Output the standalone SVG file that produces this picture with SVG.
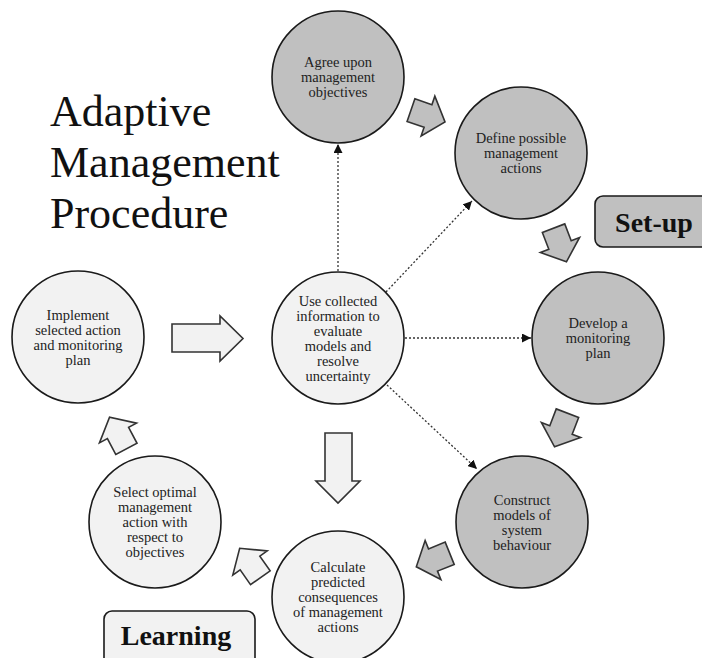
<svg xmlns="http://www.w3.org/2000/svg" width="702" height="658" viewBox="0 0 702 658">
<style>
.dark{fill:#c0c0c0;stroke:#1a1a1a;stroke-width:1.6}
.light{fill:#f2f2f2;stroke:#1a1a1a;stroke-width:1.6}
.t{font-family:"Liberation Serif","DejaVu Serif",serif;font-size:14.5px;fill:#222;text-anchor:middle}
.title{font-family:"Liberation Serif","DejaVu Serif",serif;font-size:44px;fill:#111}
.lbl{font-family:"Liberation Serif","DejaVu Serif",serif;font-size:28px;font-weight:bold;fill:#111;text-anchor:middle}
.ga{fill:#c0c0c0;stroke:#333;stroke-width:1.6;stroke-linejoin:miter}
.la{fill:#f2f2f2;stroke:#333;stroke-width:1.6;stroke-linejoin:miter}
.dot{fill:none;stroke:#333;stroke-width:1.3;stroke-dasharray:2 2}
</style>
<defs>
<marker id="ah" viewBox="0 0 10 10" refX="10" refY="5" markerWidth="9" markerHeight="9" markerUnits="userSpaceOnUse" orient="auto">
<path d="M0,0 L10,5 L0,10 Z" fill="#111"/>
</marker>
<path id="sa" d="M-18,-12 H0 V-21 L18,0 L0,21 V12 H-18 Z"/>
</defs>
<rect width="702" height="658" fill="#fff"/>
<g id="title">
<text class="title" x="50" y="126">Adaptive</text>
<text class="title" x="50" y="177">Management</text>
<text class="title" x="50" y="228">Procedure</text>
</g>
<g id="connectors">
<line class="dot" x1="338" y1="271" x2="338" y2="144" marker-end="url(#ah)"/>
<line class="dot" x1="386" y1="292" x2="472" y2="201" marker-end="url(#ah)"/>
<line class="dot" x1="405" y1="338" x2="531" y2="338" marker-end="url(#ah)"/>
<line class="dot" x1="387" y1="385" x2="477" y2="469" marker-end="url(#ah)"/>
<use href="#sa" class="ga" transform="translate(428,116) rotate(19)"/>
<use href="#sa" class="ga" transform="translate(560,245) rotate(69)"/>
<use href="#sa" class="ga" transform="translate(561,430) rotate(111)"/>
<use href="#sa" class="ga" transform="translate(433,560) rotate(158)"/>
<use href="#sa" class="la" transform="translate(250,563) rotate(-125)"/>
<use href="#sa" class="la" transform="translate(118,433) rotate(-118)"/>
<path class="la" d="M172,324 H220 V316 L243,338.5 L220,361 V352 H172 Z"/>
<path class="la" d="M325,433 H352 V481 H360 L338,503 L316,481 H325 Z"/>
</g>
<g id="n1">
<circle class="dark" cx="338" cy="77" r="66"/>
<text class="t" x="338" y="67">Agree upon</text>
<text class="t" x="338" y="82">management</text>
<text class="t" x="338" y="97">objectives</text>
</g>
<g id="n2">
<circle class="dark" cx="521" cy="153" r="66"/>
<text class="t" x="521" y="143">Define possible</text>
<text class="t" x="521" y="158">management</text>
<text class="t" x="521" y="173">actions</text>
</g>
<g id="n3">
<circle class="dark" cx="598" cy="338" r="66"/>
<text class="t" x="598" y="328">Develop a</text>
<text class="t" x="598" y="343">monitoring</text>
<text class="t" x="598" y="358">plan</text>
</g>
<g id="n4">
<circle class="dark" cx="522" cy="522" r="66"/>
<text class="t" x="522" y="504.5">Construct</text>
<text class="t" x="522" y="519.5">models of</text>
<text class="t" x="522" y="534.5">system</text>
<text class="t" x="522" y="549.5">behaviour</text>
</g>
<g id="n5">
<circle class="light" cx="338" cy="597" r="66"/>
<text class="t" x="338" y="572">Calculate</text>
<text class="t" x="338" y="587">predicted</text>
<text class="t" x="338" y="602">consequences</text>
<text class="t" x="338" y="617">of management</text>
<text class="t" x="338" y="632">actions</text>
</g>
<g id="n6">
<circle class="light" cx="155" cy="522" r="66"/>
<text class="t" x="155" y="497">Select optimal</text>
<text class="t" x="155" y="512">management</text>
<text class="t" x="155" y="527">action with</text>
<text class="t" x="155" y="542">respect to</text>
<text class="t" x="155" y="557">objectives</text>
</g>
<g id="n7">
<circle class="light" cx="78" cy="337" r="66"/>
<text class="t" x="78" y="320">Implement</text>
<text class="t" x="78" y="335">selected action</text>
<text class="t" x="78" y="350">and monitoring</text>
<text class="t" x="78" y="365">plan</text>
</g>
<g id="n0">
<circle class="light" cx="338" cy="338" r="66"/>
<text class="t" x="338" y="305.5">Use collected</text>
<text class="t" x="338" y="320.5">information to</text>
<text class="t" x="338" y="335.5">evaluate</text>
<text class="t" x="338" y="350.5">models and</text>
<text class="t" x="338" y="365.5">resolve</text>
<text class="t" x="338" y="380.5">uncertainty</text>
</g>
<g id="setup">
<rect class="dark" x="595" y="196" width="120" height="51" rx="8"/>
<text class="lbl" x="654" y="232">Set-up</text>
</g>
<g id="learning">
<rect class="light" x="104" y="611" width="151" height="60" rx="8"/>
<text class="lbl" x="176" y="645">Learning</text>
</g>
</svg>
